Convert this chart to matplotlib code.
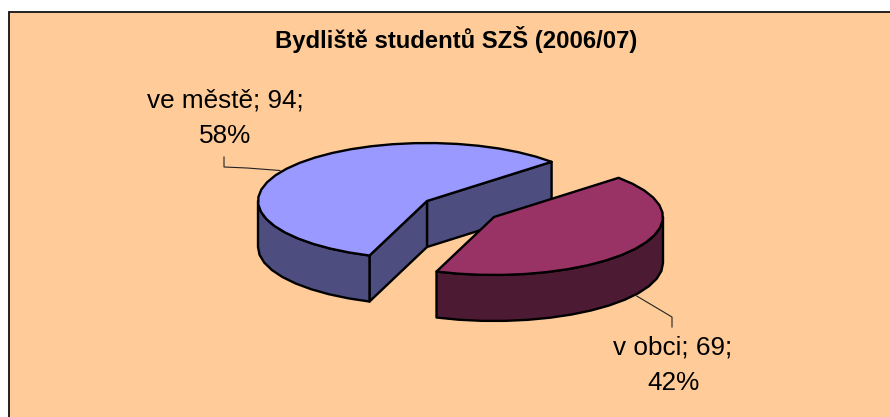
import numpy as np
import matplotlib
matplotlib.use("Agg")
import matplotlib.pyplot as plt
from matplotlib.patches import Polygon, Rectangle

plt.rcParams['font.family'] = ['Liberation Sans', 'DejaVu Sans']

# data
categories = ["ve městě", "v obci"]
values = [94, 69]
title = "Bydliště studentů SZŠ (2006/07)"

# colours
bg = "#FFCC99"
top_cols = ["#9999FF", "#993366"]
side_cols = ["#4D4D80", "#4D1A33"]

# pie geometry, pixels
centers = [(427, 201), (494, 217)]
rx, ry = 169, 58
depth = 46
start = 42.5


def arc(cx, cy, a, b):
    # segmented like the original picture
    n = max(int(abs(b - a) / 7), 2)
    t = np.radians(np.linspace(a, b, n))
    return np.column_stack([cx + rx * np.cos(t), cy - ry * np.sin(t)])


def poly(ax, pts, col, z):
    ax.add_patch(Polygon(pts, closed=True, facecolor=col, edgecolor="black",
                         linewidth=1.7, joinstyle="round", zorder=z))


fig = plt.figure(figsize=(8.9, 4.17), dpi=100)
ax = fig.add_axes([0, 0, 1, 1])
ax.set_xlim(0, 890)
ax.set_ylim(417, 0)
ax.axis("off")

ax.add_patch(Rectangle((8.5, 11.5), 900, 420, facecolor=bg, edgecolor="#111111",
                       linewidth=1.3, zorder=0))

# slice angles come from the values
total = sum(values)
a0 = start
a1 = a0 + 360 * values[0] / total
a2 = a1 + 360 * values[1] / total

# blue slice
cx, cy = centers[0]
tip_r = arc(cx, cy, a0, a0 + 0.01)[0]
tip_f = arc(cx, cy, a1, a1 + 0.01)[0]
poly(ax, [tip_r, (cx, cy), (cx, cy + depth), (tip_r[0], tip_r[1] + depth)], side_cols[0], 1)
poly(ax, [(cx, cy), tip_f, (tip_f[0], tip_f[1] + depth), (cx, cy + depth)], side_cols[0], 2)
front = arc(cx, cy, 180, a1)
poly(ax, np.vstack([front, (front + [0, depth])[::-1]]), side_cols[0], 2)
poly(ax, np.vstack([[(cx, cy)], arc(cx, cy, a0, a1)]), top_cols[0], 3)

# red slice
cx, cy = centers[1]
front = arc(cx, cy, a1, 360)
poly(ax, np.vstack([front, (front + [0, depth])[::-1]]), side_cols[1], 4)
poly(ax, np.vstack([[(cx, cy)], arc(cx, cy, a1, a2)]), top_cols[1], 5)

# leader lines
ax.plot([224, 224, 247, 280], [157, 167, 168, 170.5], color="#222222", lw=0.8, zorder=2)
ax.plot([635, 672, 672], [295, 317, 327], color="#222222", lw=0.8, zorder=6)

# text
ax.text(456, 39, title, ha="center", va="center", fontsize=17.2, fontweight="bold", color="black")
pct = [round(100 * v / total) for v in values]
ax.text(225, 118, f"{categories[0]}; {values[0]};\n{pct[0]}%", ha="center", va="center",
        fontsize=18.8, linespacing=1.6, color="black")
ax.text(673, 365, f"{categories[1]}; {values[1]};\n{pct[1]}%", ha="center", va="center",
        fontsize=18.8, linespacing=1.6, color="black")

fig.savefig("out.png", dpi=100, facecolor="white")
